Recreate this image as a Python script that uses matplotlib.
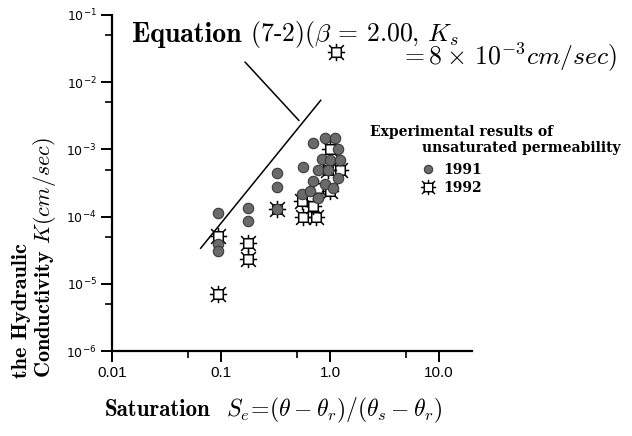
import matplotlib
matplotlib.use("Agg")
import matplotlib.pyplot as plt
from matplotlib.path import Path
from matplotlib.lines import Line2D

plt.rcParams["mathtext.fontset"] = "cm"
plt.rcParams["axes.unicode_minus"] = False

# Model curve K = Ks * Se**beta, Equation (7-2)
beta = 2.00
k_sat = 8e-3
se_model = [0.065, 0.82]

# Measured unsaturated permeability, 1991 campaign
se_1991 = [0.094, 0.094, 0.094,
           0.177, 0.177,
           0.327, 0.327, 0.327,
           0.56, 0.553, 0.656, 0.776,
           0.70, 0.90, 1.11, 1.18,
           0.846, 1.0, 1.235,
           0.776, 0.96, 1.18, 0.90, 0.70, 1.066]
k_1991 = [1.15e-4, 3.95e-5, 3.1e-5,
          1.36e-4, 8.7e-5,
          4.5e-4, 2.8e-4, 1.3e-4,
          5.4e-4, 2.2e-4, 2.44e-4, 1.86e-4,
          1.23e-3, 1.46e-3, 1.46e-3, 1.03e-3,
          7.3e-4, 6.9e-4, 6.9e-4,
          4.9e-4, 4.9e-4, 3.7e-4, 3.1e-4, 3.4e-4, 2.7e-4]

# Measured unsaturated permeability, 1992 campaign
se_1992 = [0.094, 0.094,
           0.177, 0.177,
           0.327,
           1.0, 1.235, 0.776, 1.0, 0.553, 0.56, 0.745, 0.70, 0.96,
           1.13]
k_1992 = [5.2e-5, 7.1e-6,
          4.1e-5, 2.36e-5,
          1.3e-4,
          1.03e-3, 4.9e-4, 2.7e-4, 2.44e-4, 1.73e-4, 9.7e-5, 9.7e-5, 1.46e-4, 4.9e-4,
          2.8e-2]

x_ticks = [0.01, 0.1, 1.0, 10.0]
x_ticklabels = ["0.01", "0.1", "1.0", "10.0"]
x_minor = [0.05, 0.5, 5.0]
y_ticks = [1e-6, 1e-5, 1e-4, 1e-3, 1e-2, 1e-1]
y_ticklabels = [r"$10^{-6}$", r"$10^{-5}$", r"$10^{-4}$", r"$10^{-3}$", r"$10^{-2}$", r"$10^{-1}$"]
y_minor = [5e-6, 5e-5, 5e-4, 5e-3, 5e-2]


def spiky_square():
    """Open square with short rays around it."""
    s, r = 0.55, 1.0
    verts = [(-s, -s), (s, -s), (s, s), (-s, s), (-s, -s)]
    codes = [Path.MOVETO] + [Path.LINETO] * 3 + [Path.CLOSEPOLY]
    rays = [((0, s), (0, r)), ((0, -s), (0, -r)), ((s, 0), (r, 0)), ((-s, 0), (-r, 0)),
            ((s, s), (0.85, 0.85)), ((-s, s), (-0.85, 0.85)),
            ((s, -s), (0.85, -0.85)), ((-s, -s), (-0.85, -0.85))]
    for a, b in rays:
        verts += [a, b]
        codes += [Path.MOVETO, Path.LINETO]
    return Path(verts, codes)


W, H = 632, 436
fig = plt.figure(figsize=(W / 100, H / 100), dpi=100)

x0, x1, y0, y1 = 112, 472, 15, 351
ax = fig.add_axes([x0 / W, 1 - y1 / H, (x1 - x0) / W, (y1 - y0) / H])
ax.set_xscale("log")
ax.set_yscale("log")
ax.set_xlim(0.01, 20)
ax.set_ylim(1e-6, 1e-1)

for side in ("top", "right"):
    ax.spines[side].set_visible(False)
for side in ("left", "bottom"):
    ax.spines[side].set_linewidth(1.6)

ax.set_xticks(x_ticks)
ax.set_xticklabels(x_ticklabels, fontsize=11, family="Liberation Sans")
ax.set_xticks(x_minor, minor=True)
ax.xaxis.set_minor_formatter(plt.NullFormatter())
ax.set_yticks(y_ticks)
ax.set_yticklabels(y_ticklabels, fontsize=9)
for t in ax.get_yticklabels():
    t.set_math_fontfamily("dejavusans")
ax.set_yticks(y_minor, minor=True)
ax.yaxis.set_minor_formatter(plt.NullFormatter())
ax.tick_params(which="major", direction="out", length=8, width=1.4, pad=3)
ax.tick_params(which="minor", direction="out", length=5, width=1.2)

# model line
k_model = [k_sat * s ** beta for s in se_model]
ax.plot(se_model, k_model, color="black", lw=1.1, zorder=2)

marker_1992 = spiky_square()
ax.plot(se_1992, k_1992, ls="none", marker=marker_1992, ms=12.5, mfc="white",
        mec="black", mew=1.1, zorder=3)
ax.plot(se_1991, k_1991, ls="none", marker="o", ms=7.5, mfc="#6a6a6a",
        mec="#3a3a3a", mew=0.8, zorder=4)

# equation annotation with leader line
se_lead = 0.55
ax.annotate("", xy=(se_lead, k_sat * se_lead ** beta), xycoords="data",
            xytext=(245, H - 62), textcoords="figure pixels",
            arrowprops=dict(arrowstyle="-", color="black", lw=1.1,
                            shrinkA=0, shrinkB=3))

t_eq = fig.text(132 / W, 1 - 35 / H, "Equation", family="cmb10", fontsize=20,
                va="center", ha="left")
ax.annotate(r" (7-2)($\beta$ = 2.00, $K_s$", xy=(1, 0.5), xycoords=t_eq,
            va="center", ha="left", family="cmr10", fontsize=18.5,
            annotation_clip=False)
fig.text(400 / W, 1 - 57 / H, r"$= 8\times\,10^{-3}cm/sec)$", fontsize=18.5,
         va="center", ha="left")

# axis titles
fig.text(22 / W, 1 - 378 / H, "the Hydraulic", family="cmb10", fontsize=16,
         rotation=90, ha="center", va="bottom")
fig.text(45 / W, 1 - 378 / H, r"Conductivity $K(cm/sec)$", family="cmb10",
         fontsize=16, rotation=90, ha="center", va="bottom")
t_sat = fig.text(105 / W, 1 - 410 / H, "Saturation", family="cmb10",
                 fontsize=16.5, ha="left", va="center")
ax.annotate(r"  $S_e\!=\!(\theta-\theta_r)/(\theta_s-\theta_r)$", xy=(1, 0.5),
            xycoords=t_sat, va="center", ha="left", fontsize=17,
            annotation_clip=False)

# legend: heading lines, then the two campaigns
legend_font = {"family": "DejaVu Serif", "weight": "bold", "size": 10}
fig.text(370 / W, 1 - 132 / H, "Experimental results of", va="center",
         ha="left", **legend_font)
fig.text(422 / W, 1 - 148 / H, "unsaturated permeability", va="center",
         ha="left", **legend_font)
handles = [Line2D([], [], ls="none", marker="o", ms=6, mfc="#6a6a6a", mec="#3a3a3a", mew=0.8),
           Line2D([], [], ls="none", marker=marker_1992, ms=11, mfc="white", mec="black", mew=1.0)]
fig.legend(handles, ["1991", "1992"], loc="upper left",
           bbox_to_anchor=(420 / W, 1 - 163 / H), frameon=False,
           prop=legend_font, handlelength=1.2, handletextpad=0.5,
           labelspacing=0.3, borderpad=0.0, borderaxespad=0.0)

fig.savefig("out.png", dpi=100)
